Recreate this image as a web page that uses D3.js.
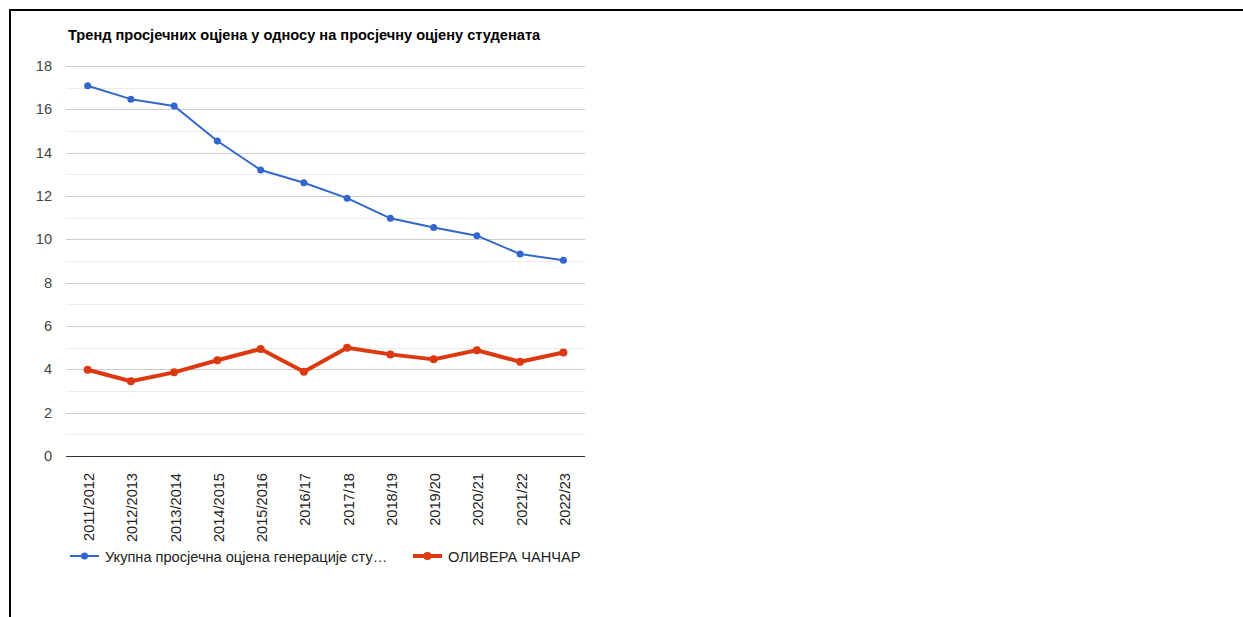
<!DOCTYPE html>
<html>
<head>
<meta charset="utf-8">
<style>
    body { margin: 0; background: #fff; }
    svg { display: block; font-family: Arial, "Liberation Sans", sans-serif; }
</style>
</head>
<body>
<svg width="1243" height="617"></svg>
<script src="https://d3js.org/d3.v7.min.js"></script>
<script>
    var years = ["2011/2012", "2012/2013", "2013/2014", "2014/2015", "2015/2016", "2016/17",
        "2017/18", "2018/19", "2019/20", "2020/21", "2021/22", "2022/23"];
    var generacija = [17.09, 16.47, 16.15, 14.54, 13.2, 12.61, 11.9, 10.97, 10.55, 10.17, 9.32, 9.03];
    var student = [3.98, 3.45, 3.86, 4.42, 4.94, 3.89, 5.0, 4.69, 4.46, 4.88, 4.35, 4.78];
    var yTicks = [0, 2, 4, 6, 8, 10, 12, 14, 16, 18];
    var title = "Тренд просјечних оцјена у односу на просјечну оцјену студената";
    var names = ["Укупна просјечна оцјена генерације сту…", "ОЛИВЕРА ЧАНЧАР"];

    var svg = d3.select("svg");
    var fs = 14.6;

    // okvir
    svg.append("rect")
        .attr("x", 10).attr("y", 10)
        .attr("width", 1300).attr("height", 700)
        .attr("fill", "none").attr("stroke", "#000").attr("stroke-width", 2);

    var plot = { left: 66, right: 585, top: 66, bottom: 456 };

    var x = d3.scalePoint().domain(years).range([plot.left, plot.right]).padding(0.5);
    var y = d3.scaleLinear().domain([0, 18]).range([plot.bottom, plot.top]);

    svg.append("text")
        .attr("x", 68).attr("y", 39.5)
        .attr("font-size", fs).attr("font-weight", "bold").attr("fill", "#000")
        .text(title);

    // mreza
    var minor = d3.range(1, 18, 2);
    svg.append("g").selectAll("line").data(minor).enter().append("line")
        .attr("x1", plot.left).attr("x2", plot.right)
        .attr("y1", function (d) { return Math.round(y(d)) + 0.5; })
        .attr("y2", function (d) { return Math.round(y(d)) + 0.5; })
        .attr("stroke", "#ebebeb");
    svg.append("g").selectAll("line").data(yTicks.slice(1)).enter().append("line")
        .attr("x1", plot.left).attr("x2", plot.right)
        .attr("y1", function (d) { return Math.round(y(d)) + 0.5; })
        .attr("y2", function (d) { return Math.round(y(d)) + 0.5; })
        .attr("stroke", "#cccccc");
    svg.append("line")
        .attr("x1", plot.left).attr("x2", plot.right)
        .attr("y1", Math.round(y(0)) + 0.5).attr("y2", Math.round(y(0)) + 0.5)
        .attr("stroke", "#333");

    svg.append("g").selectAll("text").data(yTicks).enter().append("text")
        .attr("x", 52).attr("y", function (d) { return y(d) + 5; })
        .attr("text-anchor", "end").attr("font-size", fs).attr("fill", "#444")
        .text(function (d) { return d; });

    svg.append("g").selectAll("text").data(years).enter().append("text")
        .attr("transform", function (d) { return "translate(" + (x(d) + 6.5) + ",473) rotate(-90)"; })
        .attr("text-anchor", "end").attr("font-size", fs).attr("fill", "#222")
        .text(function (d) { return d; });

    var line = d3.line()
        .x(function (d, i) { return x(years[i]); })
        .y(function (d) { return y(d); });

    var series = [
        { values: generacija, color: "#3366cc", width: 2, r: 3.5 },
        { values: student, color: "#dc3912", width: 4, r: 4 }
    ];

    series.forEach(function (s) {
        svg.append("path").datum(s.values)
            .attr("d", line).attr("fill", "none")
            .attr("stroke", s.color).attr("stroke-width", s.width)
            .attr("stroke-linejoin", "round");
        svg.append("g").selectAll("circle").data(s.values).enter().append("circle")
            .attr("cx", function (d, i) { return x(years[i]); })
            .attr("cy", function (d) { return y(d); })
            .attr("r", s.r).attr("fill", s.color);
    });

    // legenda
    var legX = [70, 413];
    series.forEach(function (s, i) {
        var g = svg.append("g").attr("transform", "translate(" + legX[i] + ",556)");
        g.append("line").attr("x1", 0).attr("x2", 29)
            .attr("stroke", s.color).attr("stroke-width", s.width);
        g.append("circle").attr("cx", 14.5).attr("r", s.r).attr("fill", s.color);
        g.append("text").attr("x", 35).attr("y", 5.5)
            .attr("font-size", fs).attr("fill", "#222")
            .text(names[i]);
    });
</script>
</body>
</html>
